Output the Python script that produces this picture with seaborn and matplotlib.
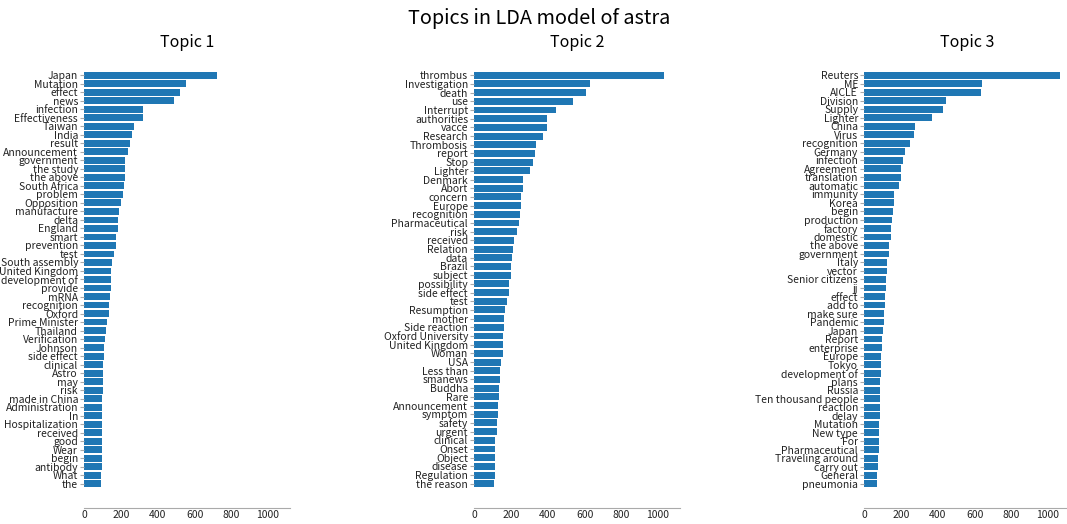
import matplotlib
matplotlib.use("Agg")
import matplotlib.pyplot as plt
import seaborn as sns
import pandas as pd

plt.rcParams['font.family'] = ['Noto Sans CJK JP', 'DejaVu Sans']

topic1_words = ["Japan", "Mutation", "effect", "news", "infection", "Effectiveness", "Taiwan", "India",
                "result", "Announcement", "government", "the study", "the above", "South Africa", "problem",
                "Opposition", "manufacture", "delta", "England", "smart", "prevention", "test",
                "South assembly", "United Kingdom", "development of", "provide", "mRNA", "recognition",
                "Oxford", "Prime Minister", "Thailand", "Verification", "Johnson", "side effect", "clinical",
                "Astro", "may", "risk", "made in China", "Administration", "In", "Hospitalization",
                "received", "good", "Wear", "begin", "antibody", "What", "the"]
topic1_values = [720, 552, 522, 489, 319, 318, 268, 262, 248, 236, 221, 219, 219, 215, 213, 201, 191, 182,
                 182, 175, 171, 164, 151, 145, 145, 145, 140, 132, 132, 124, 119, 113, 109, 106, 104, 104,
                 102, 100, 99, 99, 98, 97, 97, 96, 95, 94, 94, 92, 91]

topic2_words = ["thrombus", "Investigation", "death", "use", "Interrupt", "authorities", "vacce", "Research",
                "Thrombosis", "report", "Stop", "Lighter", "Denmark", "Abort", "concern", "Europe",
                "recognition", "Pharmaceutical", "risk", "received", "Relation", "data", "Brazil", "subject",
                "possibility", "side effect", "test", "Resumption", "mother", "Side reaction",
                "Oxford University", "United Kingdom", "Woman", "USA", "Less than", "smanews", "Buddha",
                "Rare", "Announcement", "symptom", "safety", "urgent", "clinical", "Onset", "Object",
                "disease", "Regulation", "the reason"]
topic2_values = [1031, 632, 610, 535, 445, 397, 393, 375, 335, 333, 319, 304, 266, 266, 255, 253, 246, 243,
                 232, 215, 213, 204, 202, 197, 190, 190, 177, 169, 164, 164, 158, 157, 155, 146, 140, 140,
                 137, 135, 131, 128, 122, 122, 115, 115, 115, 113, 111, 109]

topic3_words = ["Reuters", "ME", "AICLE", "Division", "Supply", "Lighter", "China", "Virus", "recognition",
                "Germany", "infection", "Agreement", "translation", "automatic", "immunity", "Korea", "begin",
                "production", "factory", "domestic", "the above", "government", "Italy", "vector",
                "Senior citizens", "jj", "effect", "add to", "make sure", "Pandemic", "Japan", "Report",
                "enterprise", "Europe", "Tokyo", "development of", "plans", "Russia", "Ten thousand people",
                "reaction", "delay", "Mutation", "New type", "For", "Pharmaceutical", "Traveling around",
                "carry out", "General", "pneumonia"]
topic3_values = [1066, 642, 634, 445, 428, 370, 275, 272, 248, 224, 211, 199, 197, 190, 162, 162, 158, 151,
                 148, 144, 135, 135, 126, 122, 120, 119, 115, 115, 108, 106, 102, 98, 98, 91, 90, 90, 87, 87,
                 87, 86, 86, 82, 80, 80, 79, 77, 75, 71, 71]

topic_titles = ["Topic 1", "Topic 2", "Topic 3"]
main_title = "Topics in LDA model of astra"

fig = plt.figure(figsize=(10.67, 5.24), dpi=100)
W, H = 1067, 524
ax_w = 205.7 / W
bottom = 1 - 508 / H
height = (508 - 51) / H
lefts = [84.3 / W, 474.3 / W, 864.3 / W]

axes = []
for i, left in enumerate(lefts):
    if i == 0:
        ax = fig.add_axes([left, bottom, ax_w, height])
    else:
        ax = fig.add_axes([left, bottom, ax_w, height], sharex=axes[0])
    axes.append(ax)

data = [(topic1_words, topic1_values), (topic2_words, topic2_values), (topic3_words, topic3_values)]
xmax = max(max(v) for _, v in data)

for ax, (words, vals), title in zip(axes, data, topic_titles):
    df = pd.DataFrame({"word": words, "count": vals})
    sns.barplot(data=df, x="count", y="word", orient="h", color="#1f77b4", saturation=1,
                width=0.8, ax=ax, order=words)
    n = len(words)
    span = n - 1 + 0.8
    ax.set_ylim(n - 1 + 0.4 + 0.05 * span, -0.4 - 0.05 * span)
    ax.set_xlim(0, xmax * 1.05)
    ax.set_xlabel("")
    ax.set_ylabel("")
    ax.set_title(title, fontsize=11.5, pad=3)
    ax.tick_params(axis="y", labelsize=7.5, length=3, pad=1.5, width=0.8, color="#aaaaaa")
    ax.tick_params(axis="x", labelsize=7.5, length=0, pad=1.5)
    ax.set_xticks([0, 200, 400, 600, 800, 1000])
    for s in ["top", "right", "left"]:
        ax.spines[s].set_visible(False)
    ax.spines["bottom"].set_color("#aaaaaa")
    ax.spines["bottom"].set_linewidth(0.8)
    for lbl in ax.get_yticklabels() + ax.get_xticklabels():
        lbl.set_color("#222222")

fig.suptitle(main_title, fontsize=14.3, x=0.505, y=0.985)
fig.savefig("out.png", dpi=100)
